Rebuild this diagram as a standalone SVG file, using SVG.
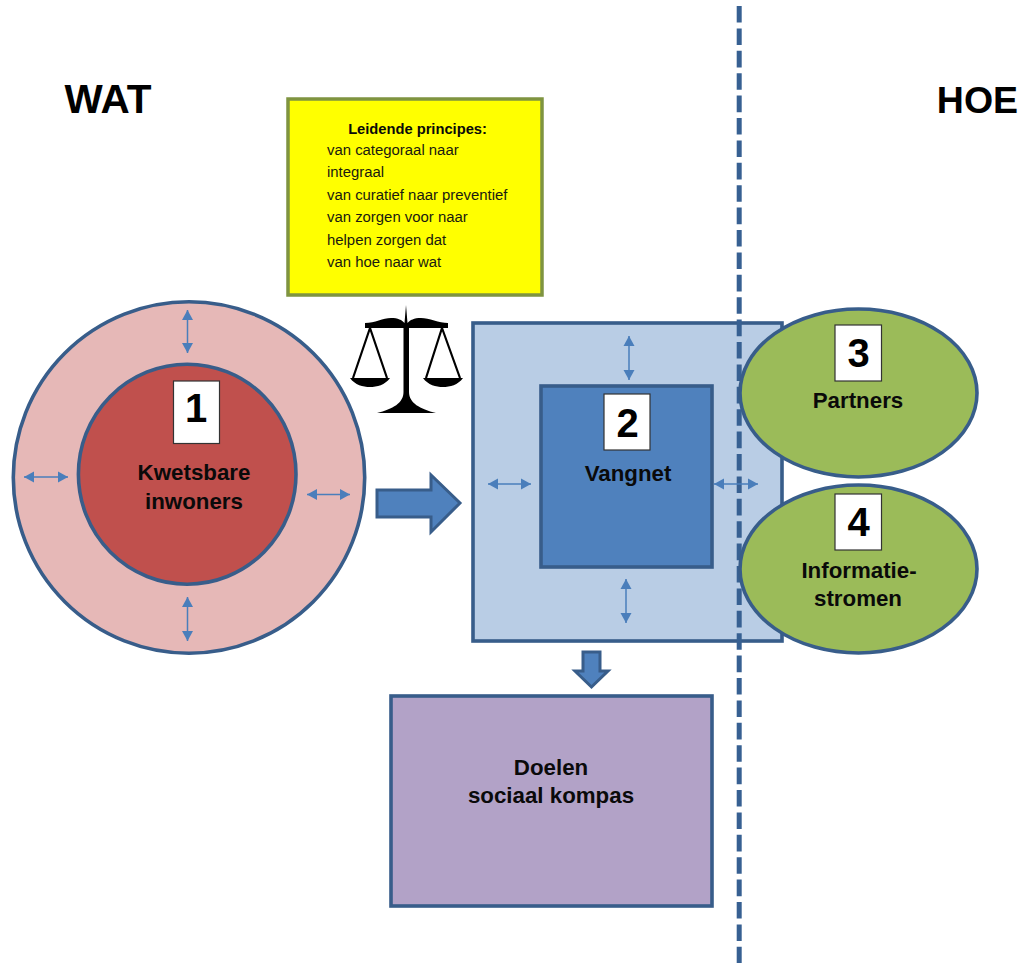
<svg xmlns="http://www.w3.org/2000/svg" width="1025" height="963" viewBox="0 0 1025 963">
<style>
text{font-family:"Liberation Sans",Arial,sans-serif;fill:#0a0a0a;text-anchor:middle}
.b{font-weight:bold;font-size:22.300px}
.h{font-weight:bold;font-size:37.500px;fill:#000}
.n{font-weight:bold;font-size:40px;fill:#000}
.p{font-size:14.900px;text-anchor:start;fill:#1a1a10}
.s{stroke:#385d8a;stroke-width:3.600}
.card{fill:#fff;stroke:#333;stroke-width:1.200}
.da{fill:none;stroke:#4a7ebb;stroke-width:1.500;marker-start:url(#ah);marker-end:url(#ah)}
.block{fill:#4f81bd;stroke:#385d8a;stroke-width:3}
</style>
<defs>
<marker id="ah" markerUnits="userSpaceOnUse" markerWidth="11" markerHeight="12" refX="10" refY="6" orient="auto-start-reverse"><path d="M0 0.500L10 6L0 11.500Z" fill="#4a7ebb"/></marker>
</defs>
<g id="title-wat"><text class="h" x="108" y="113" style="font-size:40.500px">WAT</text></g>
<g id="title-hoe"><text class="h" x="977.500" y="113">HOE</text></g>
<g id="principes">
<rect x="288" y="99" width="254" height="196" fill="#ffff00" stroke="#7f9440" stroke-width="3.500"/>
<text x="417.500" y="134" font-size="14.700" font-weight="bold">Leidende principes:</text>
<text class="p" x="327" y="155">van categoraal naar</text>
<text class="p" x="327" y="177">integraal</text>
<text class="p" x="327" y="200">van curatief naar preventief</text>
<text class="p" x="327" y="222">van zorgen voor naar</text>
<text class="p" x="327" y="245">helpen zorgen dat</text>
<text class="p" x="327" y="267">van hoe naar wat</text>
</g>
<g id="weegschaal" fill="#000">
<path d="M365 323C375 323 383 318 391 318C398 318 402 320 404.500 323L406 305L407.500 323C410 320 414 318 421 318C429 318 439 323 448 323V328H409V392C409 403 420 409 436 413H377C393 409 403.500 403 403.500 392V328H365Z"/>
<path d="M350 378H390C385 385 377 387 370 387C363 387 355 385 350 378ZM423 378H463C458 385 450 387 443 387C436 387 428 385 423 378Z"/>
<path d="M370 328L353 378M370 328L387 378M442 328L426 378M442 328L460 378" fill="none" stroke="#000" stroke-width="2.200"/>
</g>
<g id="node-1">
<circle cx="189" cy="477.500" r="175.700" fill="#e6b8b7" class="s"/>
<ellipse cx="187.200" cy="474.200" rx="108.800" ry="110" fill="#c0504d" class="s"/>
<rect class="card" x="173.500" y="381" width="46" height="62.500"/>
<text class="n" x="196" y="422">1</text>
<text class="b" x="194" y="480">Kwetsbare</text>
<text class="b" x="194" y="508.500">inwoners</text>
</g>
<g id="node-2">
<rect x="473" y="323" width="309" height="318" fill="#b9cde5" class="s"/>
<rect x="541" y="386" width="171" height="181" fill="#4f81bd" class="s"/>
<rect class="card" x="604" y="394" width="46" height="56"/>
<text class="n" x="627.500" y="437">2</text>
<text class="b" x="628" y="481">Vangnet</text>
</g>
<g id="divider"><path d="M739.200 6V963" fill="none" stroke="#376092" stroke-width="5" stroke-dasharray="16.600 5.800"/></g>
<g id="node-3">
<ellipse cx="858.500" cy="393" rx="118.500" ry="84" fill="#9bbb59" class="s"/>
<rect class="card" x="835" y="325" width="46.500" height="56"/>
<text class="n" x="858.500" y="367">3</text>
<text class="b" x="858" y="407.500">Partners</text>
</g>
<g id="node-4">
<ellipse cx="858.500" cy="569" rx="118.500" ry="84" fill="#9bbb59" class="s"/>
<rect class="card" x="835" y="494" width="46.500" height="56"/>
<text class="n" x="858.500" y="536">4</text>
<text class="b" x="859" y="578">Informatie-</text>
<text class="b" x="858" y="606">stromen</text>
</g>
<g id="node-doelen">
<rect x="391" y="696" width="321" height="210" fill="#b2a2c7" class="s"/>
<text class="b" x="551" y="775">Doelen</text>
<text class="b" x="551" y="803">sociaal kompas</text>
</g>
<g id="connectors">
<path class="da" d="M187.500 310V353"/>
<path class="da" d="M187.500 597V641"/>
<path class="da" d="M24 477H68"/>
<path class="da" d="M307 494.500H350"/>
<path class="da" d="M629 336V380"/>
<path class="da" d="M626 579V623"/>
<path class="da" d="M488 484H531"/>
<path class="da" d="M714 484H758"/>
<path class="block" d="M377 490H431V475L460 503L431 532V517H377Z"/>
<path class="block" d="M583 652H600V671H608L591.500 687L575 671H583Z"/>
</g>
</svg>
